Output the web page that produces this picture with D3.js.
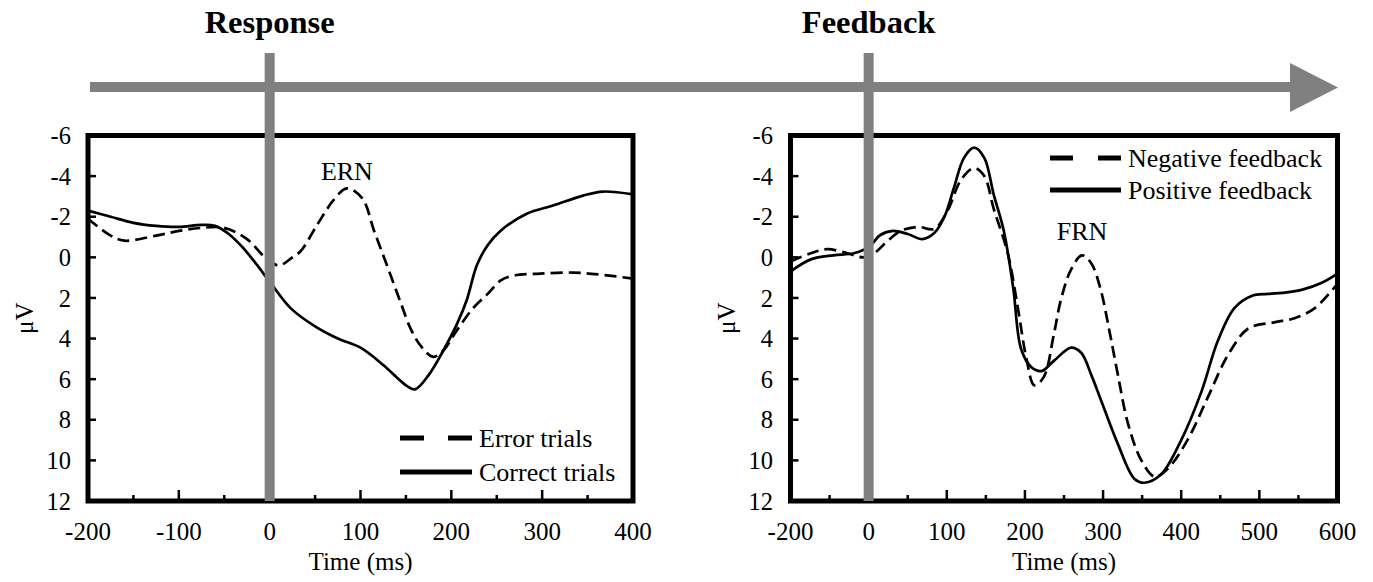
<!DOCTYPE html>
<html>
<head>
<meta charset="utf-8">
<script src="https://cdn.jsdelivr.net/npm/d3@7"></script>
<style>
  html, body { margin: 0; padding: 0; background: #fff; }
  svg { display: block; }
  text { font-family: "Liberation Serif", "Times New Roman", serif; fill: #000; }
</style>
</head>
<body>
<svg id="chart" width="1373" height="582"></svg>
<script>
// ---------- DATA ----------
// Left panel (response-locked)
const errorT   = [-200,-175,-160,-125,-100,-75,-50,-25,-5,10,25,34,53,70,85,102,115,130,144,155,167,180,191,206,224,240,254,268,298,334,364,400];
const errorV   = [-1.9,-1.07,-0.82,-1.07,-1.3,-1.45,-1.45,-0.9,0.0,0.4,0.0,-0.3,-1.65,-2.8,-3.4,-2.9,-1.3,0.5,2.2,3.5,4.4,4.9,4.6,3.6,2.5,1.8,1.15,0.9,0.8,0.75,0.85,1.05];
const correctT = [-200,-175,-150,-125,-100,-75,-60,-45,-30,-17,0,23,50,75,100,125,150,160,175,191,206,217,228,240,254,283,312,345,367,400];
const correctV = [-2.3,-2.0,-1.7,-1.55,-1.5,-1.6,-1.55,-1.15,-0.5,0.2,1.2,2.5,3.4,4.0,4.45,5.3,6.3,6.5,5.8,4.6,3.3,2.1,0.4,-0.6,-1.3,-2.15,-2.55,-3.04,-3.24,-3.1];

// Right panel (feedback-locked)
const negativeT = [-100,-74,-53,-27,-6,7,24,41,63,84,101,118,135,148,160,178,191,202,212,224,237,246,259,273,285,297,308,319,332,349,366,383,408,434,460,486,519,545,571,600];
const negativeV = [0.2,-0.2,-0.4,-0.2,0.0,-0.2,-0.8,-1.3,-1.5,-1.4,-2.3,-3.8,-4.4,-4.0,-2.4,-0.2,2.5,5.0,6.3,5.9,3.8,2.1,0.6,-0.1,0.3,1.6,3.6,5.8,8.2,10.0,10.8,10.4,9.0,6.9,4.8,3.5,3.2,3.0,2.5,1.3];
const positiveT = [-100,-74,-45,-19,0,15,31,50,69,84,97,109,122,135,148,160,173,185,195,208,221,237,259,272,285,297,319,340,353,374,400,426,447,468,490,511,530,554,580,600];
const positiveV = [0.7,0.1,-0.1,-0.2,-0.5,-1.1,-1.3,-1.15,-0.9,-1.2,-2.0,-3.4,-4.9,-5.4,-4.9,-3.1,-1.3,1.5,4.5,5.4,5.6,5.1,4.45,4.7,5.8,7.0,9.2,10.9,11.1,10.7,9.0,6.6,4.1,2.5,1.9,1.8,1.75,1.6,1.25,0.8];

// Axes / tick labels
const yTicks = [-6,-4,-2,0,2,4,6,8,10,12];
const leftXTicks = [-200,-100,0,100,200,300,400];
const leftXLabels = ["-200","-100","0","100","200","300","400"];
const rightXTicks = [-100,0,100,200,300,400,500,600];
const rightXLabels = ["-200","0","100","200","300","400","500","600"];
const leftMinorTicks = [-150,-100,-50,50,100,150,200,250,300,350];
const rightMinorTicks = [-50,50,100,150,200,250,300,350,400,450,500,550];
const majorStep = 100;

const eventLabels = ["Response","Feedback"];
const leftLegend = ["Error trials","Correct trials"];
const rightLegend = ["Negative feedback","Positive feedback"];
const xTitle = "Time (ms)";
const yTitle = "\u03BCV";

// ---------- DRAW ----------
const svg = d3.select("#chart");
const GRAY = "#808080";

const yScale = d3.scaleLinear().domain([-6, 12]).range([135.5, 501]);
const xL = d3.scaleLinear().domain([-200, 400]).range([88, 633]);
const xR = d3.scaleLinear().domain([-100, 600]).range([790.5, 1337.5]);

const line = (xs) => d3.line()
  .x(d => xs(d[0])).y(d => yScale(d[1]))
  .curve(d3.curveCatmullRom.alpha(0.5));

function zip(t, v) { return t.map((d, i) => [d, v[i]]); }

function panel(xs, xTickVals, xTickLabels, minor, labelX, muX, series, legend, legendPos) {
  const g = svg.append("g");
  const [x0, x1] = xs.range();
  const [y0, y1] = yScale.range();

  series.forEach(s => {
    g.append("path")
      .attr("d", line(xs)(zip(s.t, s.v)))
      .attr("fill", "none")
      .attr("stroke", "#000")
      .attr("stroke-width", 2.7)
      .attr("stroke-dasharray", s.dashed ? "12,6" : null);
  });

  g.append("rect")
    .attr("x", x0).attr("y", y0)
    .attr("width", x1 - x0).attr("height", y1 - y0)
    .attr("fill", "none").attr("stroke", "#000").attr("stroke-width", 5);

  g.selectAll(".yt").data(yTicks.filter(d => d > -6 && d < 12)).enter()
    .append("line")
    .attr("x1", x0).attr("x2", x0 + 8)
    .attr("y1", d => yScale(d)).attr("y2", d => yScale(d))
    .attr("stroke", "#000").attr("stroke-width", 2.5);

  g.selectAll(".xt").data(minor).enter()
    .append("line")
    .attr("x1", d => xs(d)).attr("x2", d => xs(d))
    .attr("y1", y1).attr("y2", d => y1 - (d % majorStep === 0 ? 11 : 6))
    .attr("stroke", "#000").attr("stroke-width", 2.5);

  g.selectAll(".yl").data(yTicks).enter()
    .append("text")
    .attr("x", labelX).attr("y", d => yScale(d))
    .attr("dy", "0.35em")
    .attr("text-anchor", "end")
    .attr("font-size", 24.5)
    .text(d => d);

  g.selectAll(".xl").data(xTickVals).enter()
    .append("text")
    .attr("x", d => xs(d)).attr("y", 540)
    .attr("text-anchor", "middle")
    .attr("font-size", 25)
    .text((d, i) => xTickLabels[i]);

  g.append("text")
    .attr("x", (x0 + x1) / 2).attr("y", 570)
    .attr("text-anchor", "middle").attr("font-size", 25)
    .text(xTitle);
  g.append("text")
    .attr("transform", `translate(${muX},${(y0 + y1) / 2}) rotate(-90)`)
    .attr("text-anchor", "middle").attr("dy", "0.35em")
    .attr("font-size", 25)
    .text(yTitle);

  legend.forEach((name, i) => {
    const ly = legendPos.y[i];
    const dashed = i === 0;
    if (dashed) {
      g.append("line").attr("x1", legendPos.x0).attr("x2", legendPos.x0 + legendPos.dash)
        .attr("y1", ly).attr("y2", ly).attr("stroke", "#000").attr("stroke-width", 5);
      g.append("line").attr("x1", legendPos.x1 - legendPos.dash).attr("x2", legendPos.x1)
        .attr("y1", ly).attr("y2", ly).attr("stroke", "#000").attr("stroke-width", 5);
    } else {
      g.append("line").attr("x1", legendPos.x0).attr("x2", legendPos.x1)
        .attr("y1", ly).attr("y2", ly).attr("stroke", "#000").attr("stroke-width", 5);
    }
    g.append("text")
      .attr("x", legendPos.x1 + 7).attr("y", ly).attr("dy", "0.33em")
      .attr("font-size", 26)
      .text(name);
  });
  return g;
}

panel(xL, leftXTicks, leftXLabels, leftMinorTicks, 71, 24,
  [{t: errorT, v: errorV, dashed: true}, {t: correctT, v: correctV, dashed: false}],
  leftLegend, {x0: 400, x1: 472, dash: 24, y: [438, 472]});

panel(xR, rightXTicks, rightXLabels, rightMinorTicks, 773, 726,
  [{t: negativeT, v: negativeV, dashed: true}, {t: positiveT, v: positiveV, dashed: false}],
  rightLegend, {x0: 1050, x1: 1121, dash: 23, y: [158, 190]});

svg.append("text").attr("x", xL(85)).attr("y", 180)
  .attr("text-anchor", "middle").attr("font-size", 26).text("ERN");
svg.append("text").attr("x", xR(273)).attr("y", 240)
  .attr("text-anchor", "middle").attr("font-size", 26).text("FRN");

svg.append("rect").attr("x", 90).attr("y", 82).attr("width", 1202).attr("height", 10).attr("fill", GRAY);
svg.append("path").attr("d", "M1290,63 L1338,87.5 L1290,112 Z").attr("fill", GRAY);

const eventX = [xL(0), xR(0)];
eventX.forEach((ex, i) => {
  svg.append("rect").attr("x", ex - 5).attr("y", 53).attr("width", 10).attr("height", 501 - 53).attr("fill", GRAY);
  svg.append("text").attr("x", ex).attr("y", 33)
    .attr("text-anchor", "middle").attr("font-size", 32.5).attr("font-weight", "bold")
    .text(eventLabels[i]);
});
</script>
</body>
</html>
